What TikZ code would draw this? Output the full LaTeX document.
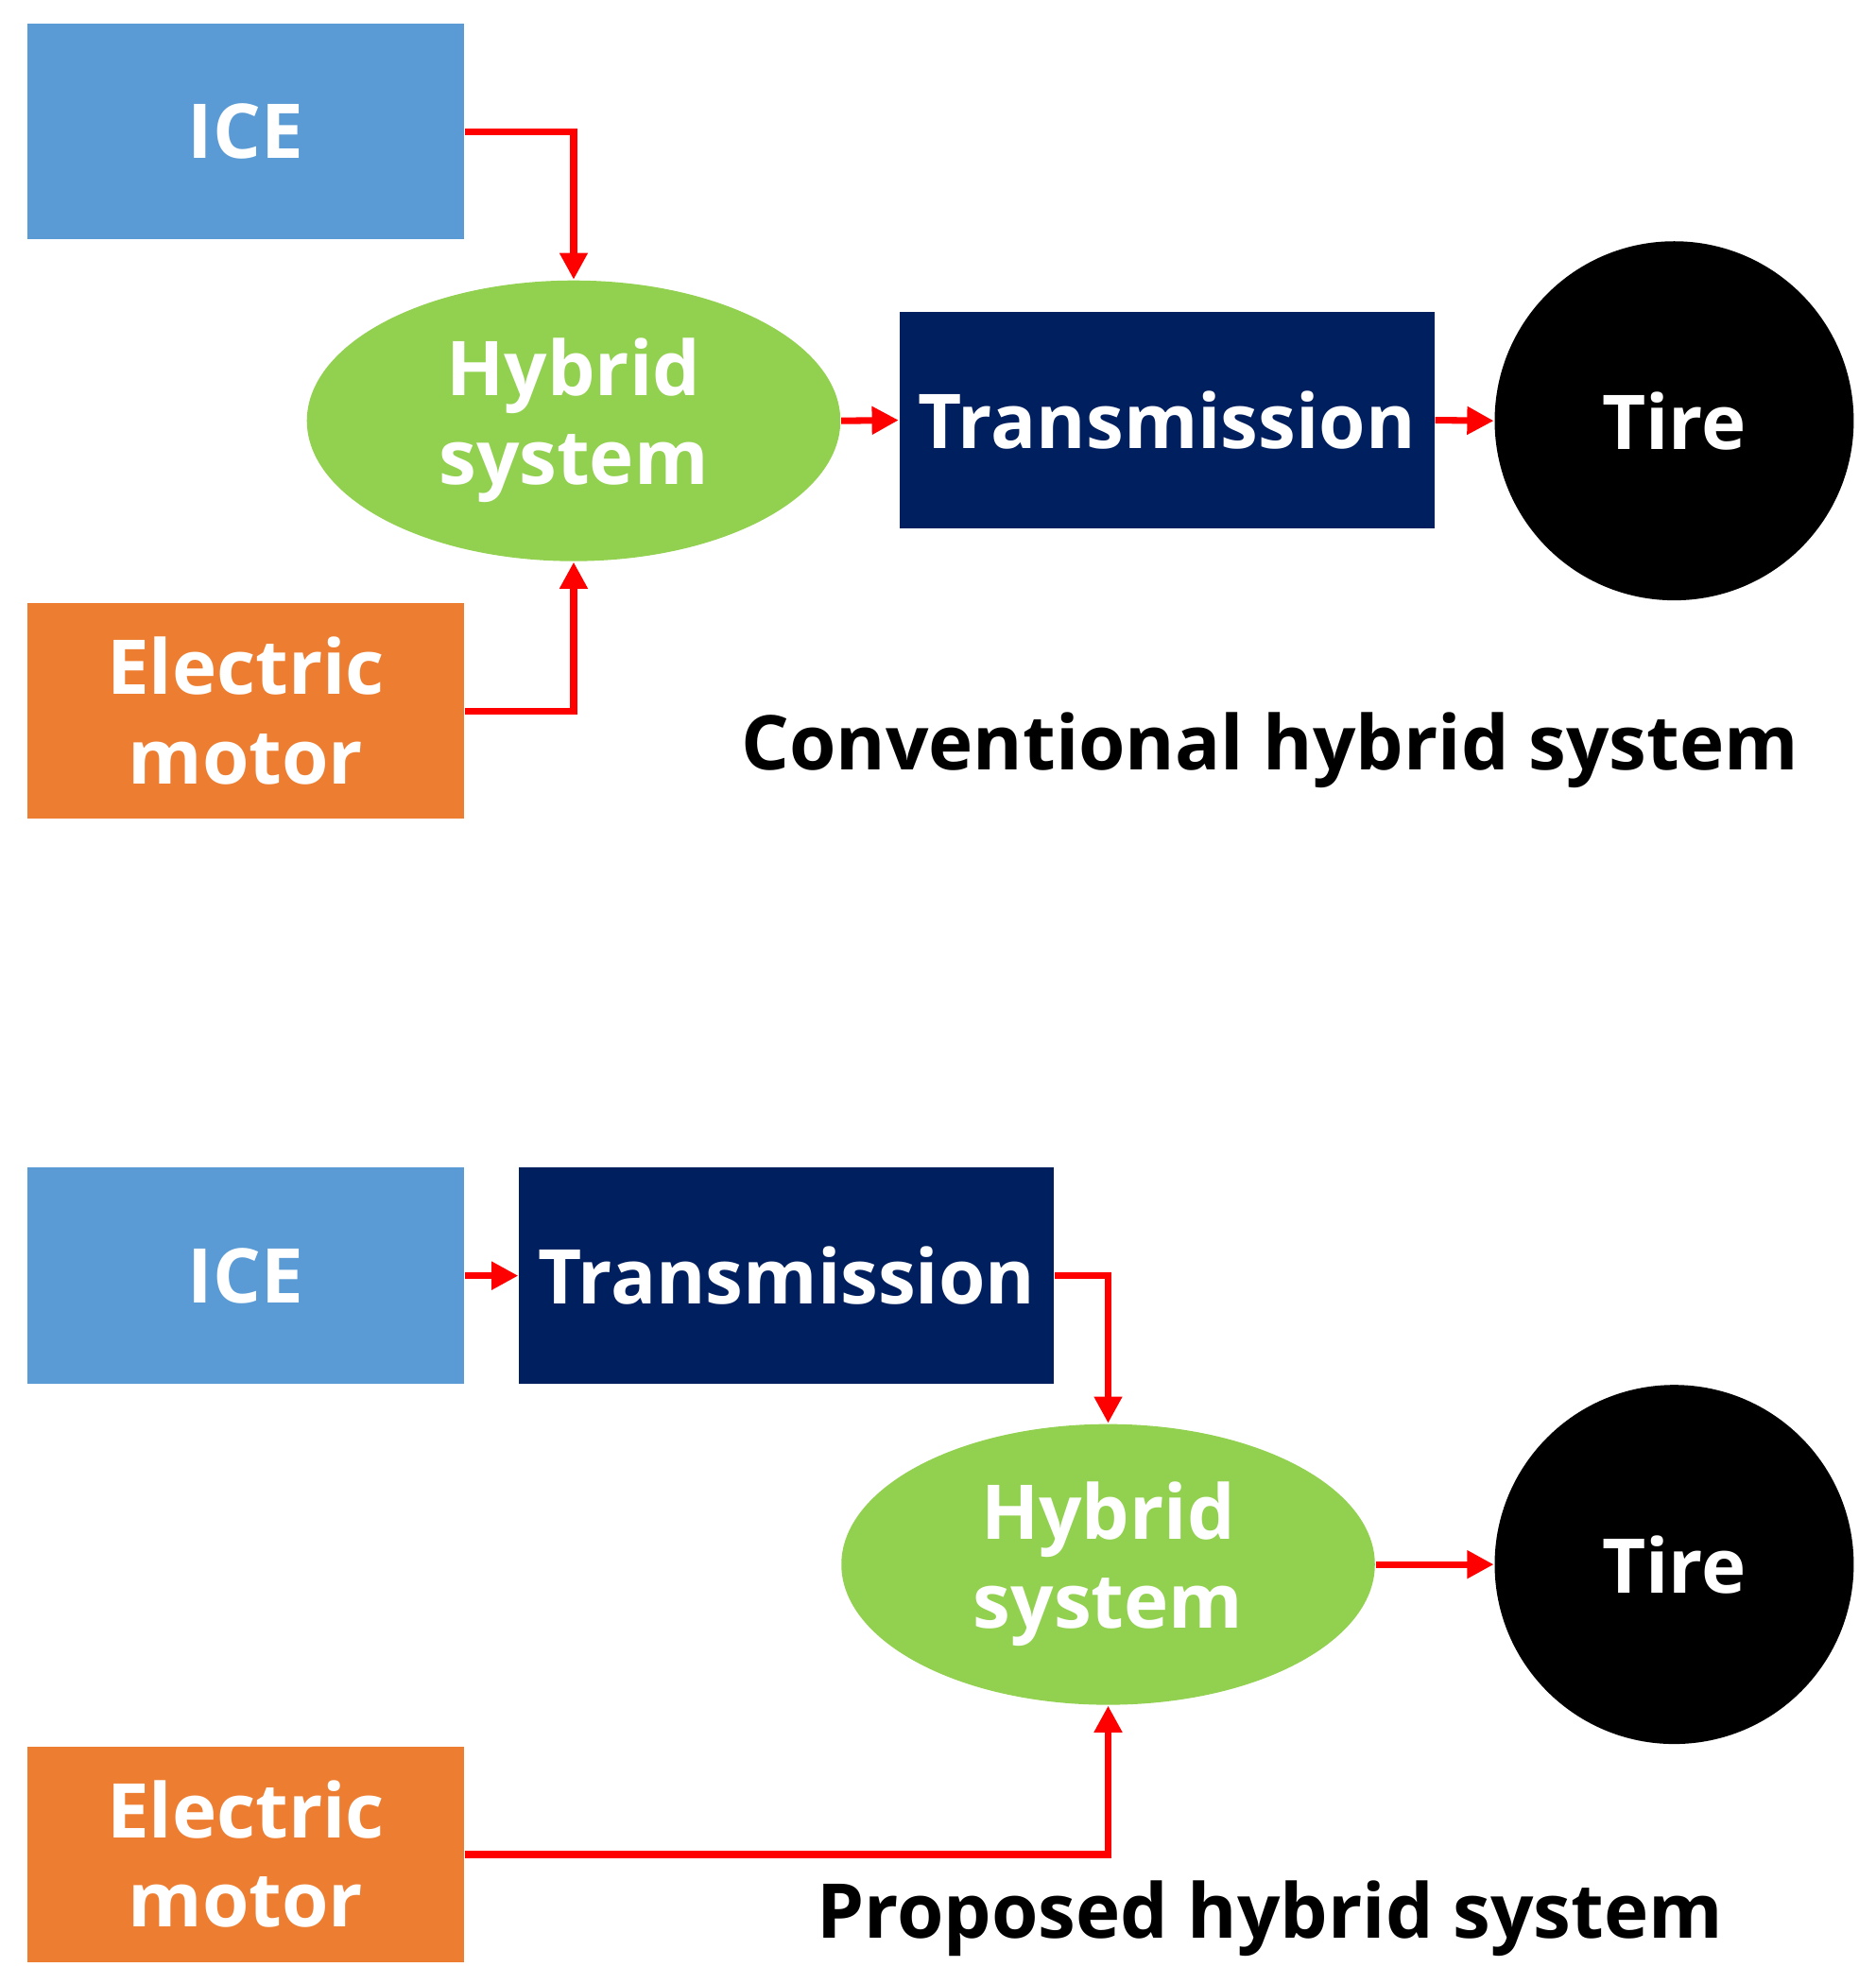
\documentclass[tikz,border=0pt]{standalone}
\usepackage{fontspec}
\setmainfont{Open Sans}
\usetikzlibrary{arrows.meta,shapes.geometric}
\definecolor{iceblue}{HTML}{5B9BD5}
\definecolor{motororange}{HTML}{ED7D31}
\definecolor{navy}{HTML}{001F5F}
\definecolor{hgreen}{HTML}{92D050}
\begin{document}
\begin{tikzpicture}[x=0.01cm,y=-0.01cm,
 box/.style={draw=none,minimum width=3.45cm,minimum height=1.71cm,text=white,font=\fontsize{17}{20}\selectfont\bfseries,align=center,inner sep=0},
 hyb/.style={ellipse,fill=hgreen,minimum width=4.22cm,minimum height=2.22cm,text=white,font=\fontsize{17}{20}\selectfont\bfseries,align=center,inner sep=0},
 tire/.style={circle,fill=black,minimum size=2.84cm,text=white,font=\fontsize{17}{20}\selectfont\bfseries,inner sep=0},
 lbl/.style={font=\fontsize{17}{20}\selectfont\bfseries},
 arr/.style={draw=red,line width=1.5pt,-{Triangle[length=6pt,width=6pt]}}]
\useasboundingbox (0,0) rectangle (1484,1570);
% top
\node[box,fill=iceblue] (ice1) at (194.5,104) {ICE};
\node[hyb] (hy1) at (454,333) {Hybrid\\system};
\node[box,fill=navy,minimum width=4.23cm] (tr1) at (923.5,332.5) {Transmission};
\node[tire] (ti1) at (1325,333) {Tire};
\node[box,fill=motororange] (em1) at (194.5,562.5) {Electric\\motor};
\node[lbl] (l1) at (1005,594) {Conventional hybrid system};
\draw[arr] (ice1.east) -| (hy1.north);
\draw[arr] (em1.east) -| (hy1.south);
\draw[arr] (hy1.east) -- (tr1.west);
\draw[arr] (tr1.east) -- (ti1.west);
% bottom
\node[box,fill=iceblue] (ice2) at (194.5,1009.5) {ICE};
\node[box,fill=navy,minimum width=4.23cm] (tr2) at (622.5,1009.5) {Transmission};
\node[hyb] (hy2) at (877,1238) {Hybrid\\system};
\node[tire] (ti2) at (1325,1238) {Tire};
\node[box,fill=motororange] (em2) at (194.5,1467.5) {Electric\\motor};
\node[lbl] (l2) at (1005,1518) {Proposed hybrid system};
\draw[arr] (ice2.east) -- (tr2.west);
\draw[arr] (tr2.east) -| (hy2.north);
\draw[arr] (em2.east) -| (hy2.south);
\draw[arr] (hy2.east) -- (ti2.west);
\end{tikzpicture}
\end{document}
